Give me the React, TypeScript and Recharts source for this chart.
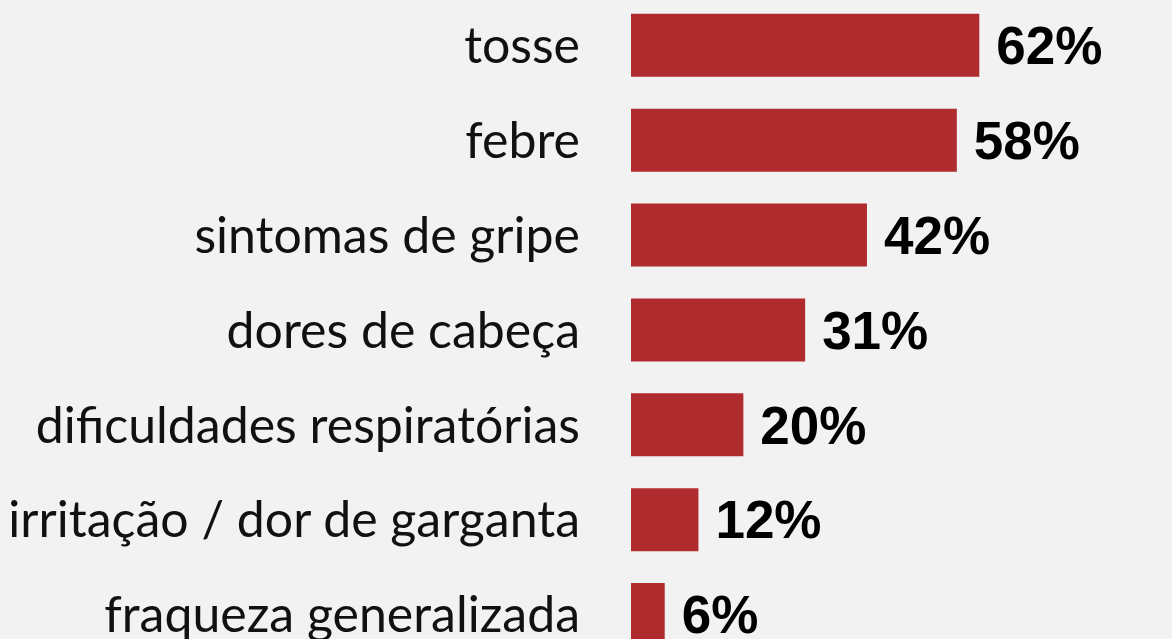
import { BarChart, Bar, XAxis, YAxis, LabelList } from 'recharts'

const symptoms = [
  'tosse',
  'febre',
  'sintomas de gripe',
  'dores de cabeça',
  'dificuldades respiratórias',
  'irritação / dor de garganta',
  'fraqueza generalizada',
]
const shares = [62, 58, 42, 31, 20, 12, 6]

const data = symptoms.map((name, i) => ({ name, value: shares[i] }))

export default function App() {
  return (
    <div
      style={{
        position: 'absolute',
        left: 0,
        top: 0,
        width: 1172,
        height: 639,
        overflow: 'hidden',
        background: '#f2f2f2',
      }}
    >
      <div style={{ position: 'absolute', left: 0, top: -2 }}>
        <BarChart
          width={1172}
          height={664}
          data={data}
          layout="vertical"
          margin={{ top: 0, right: 0, bottom: 0, left: 0 }}
          barCategoryGap="16.7%"
        >
          <XAxis type="number" domain={[0, 96.3]} hide />
          <YAxis
            type="category"
            dataKey="name"
            width={631}
            axisLine={false}
            tickLine={false}
            tickMargin={45}
            interval={0}
            tick={{ fill: '#111', fontSize: 50, fontFamily: 'Lato' }}
          />
          <Bar dataKey="value" fill="#b02b2e" isAnimationActive={false}>
            <LabelList
              dataKey="value"
              position="right"
              offset={17}
              formatter={(v: number) => `${v}%`}
              style={{ fill: '#000', fontSize: 53, fontWeight: 700, fontFamily: 'Liberation Sans' }}
            />
          </Bar>
        </BarChart>
      </div>
    </div>
  )
}
